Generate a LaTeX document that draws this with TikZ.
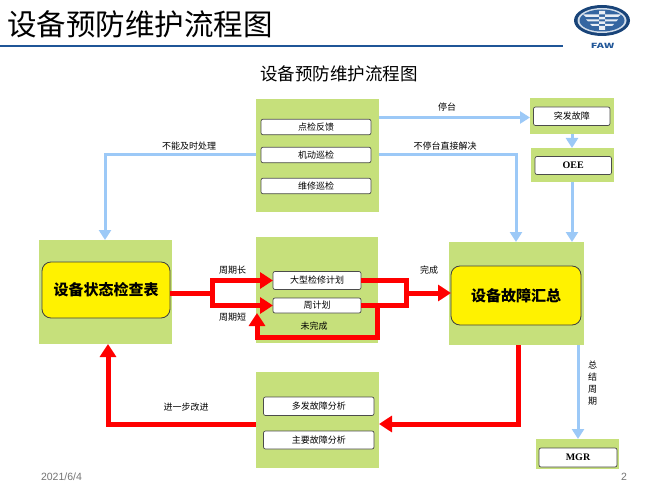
\documentclass[tikz,border=0pt]{standalone}
\usepackage{fontspec}
\setmainfont{Noto Sans CJK SC}
\newfontfamily\serifbold{Liberation Serif}[Scale=1]
\newfontfamily\datefont{Liberation Sans}
\usetikzlibrary{arrows.meta,positioning,shapes}
\definecolor{panelgreen}{HTML}{C6E07B}
\definecolor{flowblue}{HTML}{9CC9F7}
\definecolor{headblue}{HTML}{1F5597}
\tikzstyle{panel} = [rectangle, fill=panelgreen, inner sep=0pt, outer sep=0pt]
\tikzstyle{button} = [rectangle, draw=black!70, fill=white, rounded corners=2pt, line width=0.7pt,
    inner sep=0pt, outer sep=0pt, text centered, font=\fontsize{9}{9}\selectfont]
\tikzstyle{summary} = [rectangle, draw=black!75, fill=yellow, rounded corners=9pt, line width=0.8pt,
    inner sep=0pt, outer sep=0pt, font=\fontsize{15}{15}\selectfont\bfseries]
\tikzstyle{note} = [inner sep=0pt, font=\fontsize{9}{10}\selectfont]
\tikzstyle{blueline} = [draw=flowblue, line width=3pt, -{Triangle[length=10pt,width=12pt]}]
\tikzstyle{redline} = [draw=red, line width=5pt, -{Triangle[length=13pt,width=16pt]}]
\tikzstyle{redplain} = [draw=red, line width=5pt]
\begin{document}
\begin{tikzpicture}[x=1pt, y=-1pt, node distance = 12pt]
      \useasboundingbox (0,0) rectangle (667,500);
      % Header
      \node [inner sep=0pt, anchor=west, font=\fontsize{29.5}{30}\selectfont] (title) at (7,24) {设备预防维护流程图};
      \coordinate (rulestart) at (0,46.5);
      \coordinate (ruleend) at (563,46.5);
      \draw [headblue, line width=2pt] (rulestart) -- (ruleend);
      \fill [headblue!80!black] (602,20.5) ellipse (28 and 15.5);
      \fill [white!80!headblue] (602,20.5) ellipse (24.5 and 12.5);
      \fill [headblue!90!white] (602,20.5) ellipse (22.5 and 11);
      \fill [white!90!headblue] (583,14.5) -- (621,14.5) -- (618,17) -- (586,17) -- cycle
          (586,19.5) -- (618,19.5) -- (616,21.5) -- (588,21.5) -- cycle
          (590,24) -- (614,24) -- (612,26) -- (592,26) -- cycle
          (599,11) rectangle (605,30);
      \node [inner sep=0pt, xscale=1.55, font=\fontsize{7}{7}\selectfont\bfseries, text=headblue] (logotext) at (602.5,45.5) {FAW};
      \node [inner sep=0pt, font=\fontsize{17.5}{18}\selectfont] (subtitle) at (339,74) {设备预防维护流程图};
      % Panels
      \node [panel, minimum width=123pt, minimum height=113pt] (inspect) at (317.5,155.5) {};
      \node [panel, minimum width=84pt, minimum height=35.5pt] (suddenbg) at (572,116.25) {};
      \node [panel, minimum width=83pt, minimum height=34pt] (oeebg) at (572,165) {};
      \node [panel, minimum width=133pt, minimum height=104pt] (checkbg) at (105.5,292) {};
      \node [panel, minimum width=122pt, minimum height=106pt] (planbg) at (317,290) {};
      \node [panel, minimum width=135pt, minimum height=103pt] (faultbg) at (516.5,293.5) {};
      \node [panel, minimum width=123pt, minimum height=96pt] (analysisbg) at (317.5,420) {};
      \node [panel, minimum width=83pt, minimum height=29.5pt] (mgrbg) at (577.5,453.75) {};
      % Boxes inside the panels
      \node [button, minimum width=110pt, minimum height=15.5pt] (pointcheck) at (316,127) {点检反馈};
      \node [button, minimum width=110pt, minimum height=15.5pt, below=12.5pt of pointcheck] (mobilecheck) {机动巡检};
      \node [button, minimum width=110pt, minimum height=15.5pt, below=15.5pt of mobilecheck] (repaircheck) {维修巡检};
      \node [button, minimum width=76.5pt, minimum height=18.5pt] (sudden) at (571.75,116.25) {突发故障};
      \node [button, minimum width=76.5pt, minimum height=18pt, font=\fontsize{10}{10}\serifbold\bfseries] (oee) at (573.25,165.5) {OEE};
      \node [summary, minimum width=128pt, minimum height=56pt] (checklist) at (106,290) {设备状态检查表};
      \node [button, minimum width=88pt, minimum height=18pt] (overhaul) at (317,280.5) {大型检修计划};
      \node [button, minimum width=88pt, minimum height=15pt, below=8.5pt of overhaul] (weekly) {周计划};
      \node [summary, minimum width=130pt, minimum height=59pt] (faultsum) at (516,295.5) {设备故障汇总};
      \node [button, minimum width=110.5pt, minimum height=18.5pt] (repeated) at (318.75,406.25) {多发故障分析};
      \node [button, minimum width=110.5pt, minimum height=18pt, below=15.5pt of repeated] (mainfault) {主要故障分析};
      \node [button, minimum width=78pt, minimum height=19pt, font=\fontsize{10}{10}\serifbold\bfseries] (mgr) at (578,457.5) {MGR};
      % Labels
      \node [note] (stoplabel) at (447,107) {停台};
      \node [note] (directlabel) at (445,146) {不停台直接解决};
      \node [note] (latelabel) at (189,146) {不能及时处理};
      \node [note] (longlabel) at (232.5,270) {周期长};
      \node [note] (shortlabel) at (232.5,317) {周期短};
      \node [note] (donelabel) at (429,270) {完成};
      \node [note] (undonelabel) at (314,326) {未完成};
      \node [note] (improvelabel) at (186,407) {进一步改进};
      \node [note, text width=9pt, align=center, font=\fontsize{9}{12}\selectfont] (cyclelabel) at (592.5,383) {总\\结\\周\\期};
      \node [inner sep=0pt, text=black!55, font=\fontsize{10.5}{11}\datefont] (datelabel) at (61.5,477) {2021/6/4};
      \node [inner sep=0pt, text=black!55, font=\fontsize{10.5}{11}\datefont] (pagelabel) at (624,477) {2};
      % Blue edges
      \coordinate (stopstart) at (inspect.east |- 0,117.5);
      \coordinate (directcorner) at (516,0 |- mobilecheck);
      \coordinate (latecorner) at (105,0 |- mobilecheck);
      \coordinate (cyclestart) at (578,0 |- faultbg.south);
      \path [blueline] (stopstart) -- (suddenbg.west |- stopstart);
      \path [blueline] (suddenbg.south) -- (oeebg.north);
      \path [blueline] (oeebg.south) -- (oeebg.south |- faultbg.north);
      \path [blueline] (inspect.east |- mobilecheck) -- (directcorner) -- (directcorner |- faultbg.north);
      \path [blueline] (inspect.west |- mobilecheck) -- (latecorner) -- (latecorner |- checkbg.north);
      \path [blueline] (cyclestart) -- (cyclestart |- mgrbg.north);
      % Red edges
      \coordinate (forkleft) at (212,293);
      \coordinate (forkright) at (406,293);
      \coordinate (loopright) at (377,0 |- weekly);
      \coordinate (loopbottom) at (377,337);
      \coordinate (loopleft) at (257,337);
      \coordinate (faultdown) at (518,424);
      \coordinate (checkup) at (108,424);
      \path [redplain] (checklist.east |- forkleft) -- (forkleft);
      \path [redline] (forkleft) -- (forkleft |- overhaul) -- (overhaul.west);
      \path [redline] (forkleft) -- (forkleft |- weekly) -- (weekly.west);
      \path [redplain] (overhaul.east) -- (overhaul -| forkright) -- (weekly -| forkright) -- (weekly.east);
      \path [redline] (forkright) -- (faultsum.west |- forkright);
      \path [redline] (loopright) -- (loopbottom) -- (loopleft) -- (weekly.south -| loopleft);
      \path [redline] (faultdown |- faultbg.south) -- (faultdown) -- (analysisbg.east |- faultdown);
      \path [redline] (analysisbg.west |- checkup) -- (checkup) -- (checkup |- checkbg.south);
\end{tikzpicture}
\end{document}
